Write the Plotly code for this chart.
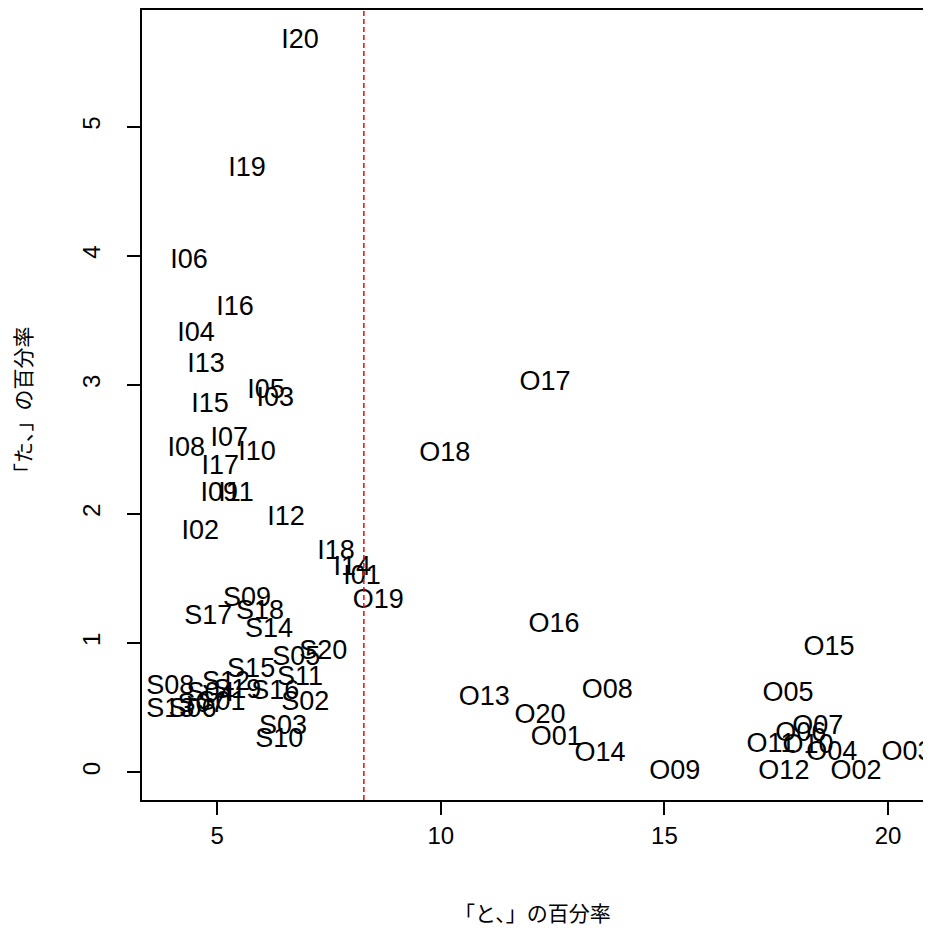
import plotly.graph_objects as go

labels = ["I20", "I19", "I06", "I16", "I04", "I13", "I05", "I03", "I15", "I07",
          "I08", "I10", "I17", "I09", "I11", "I02", "I12", "I18", "I14", "I01",
          "O17", "O18", "O19", "O16", "O15", "O13", "O08", "O05", "O20", "O01",
          "O14", "O09", "O07", "O06", "O11", "O10", "O04", "O03", "O02", "O12",
          "S09", "S17", "S18", "S14", "S20", "S05", "S15", "S11", "S16", "S02",
          "S03", "S10", "S08", "S12", "S13", "S06", "S07", "S04", "S19", "S01"]
to_pct = [6.85, 5.67, 4.37, 5.40, 4.53, 4.75, 6.09, 6.30, 4.84, 5.27,
          4.31, 5.89, 5.07, 5.05, 5.42, 4.62, 6.54, 7.66, 8.02, 8.24,
          12.33, 10.09, 8.60, 12.53, 18.68, 10.97, 13.72, 17.76, 12.22, 12.58,
          13.56, 15.23, 18.43, 18.05, 17.38, 18.21, 18.74, 20.42, 19.28, 17.67,
          5.67, 4.80, 5.96, 6.16, 7.37, 6.77, 5.76, 6.85, 6.30, 6.97,
          6.47, 6.39, 3.95, 5.20, 3.95, 4.45, 4.65, 4.85, 5.45, 5.10]
ta_pct = [5.66, 4.67, 3.96, 3.59, 3.39, 3.15, 2.95, 2.89, 2.84, 2.58,
          2.50, 2.47, 2.36, 2.15, 2.15, 1.86, 1.97, 1.70, 1.58, 1.51,
          3.01, 2.46, 1.32, 1.14, 0.96, 0.57, 0.63, 0.60, 0.43, 0.26,
          0.14, 0.00, 0.35, 0.29, 0.21, 0.20, 0.15, 0.15, 0.00, 0.00,
          1.34, 1.20, 1.24, 1.10, 0.93, 0.88, 0.79, 0.73, 0.62, 0.53,
          0.35, 0.25, 0.66, 0.69, 0.48, 0.48, 0.52, 0.60, 0.63, 0.53]
THRESHOLD = 8.28
x_ticks = [5, 10, 15, 20]
y_ticks = [0, 1, 2, 3, 4, 5]

fig = go.Figure()
fig.add_trace(go.Scatter(
    x=to_pct, y=ta_pct, mode="text", text=labels,
    textposition="middle center",
    textfont=dict(family="Liberation Sans, Arial", size=27, color="black"),
    hoverinfo="skip", showlegend=False,
))
fig.add_shape(type="line", xref="x", yref="paper", x0=THRESHOLD, x1=THRESHOLD,
              y0=0, y1=1, line=dict(color="#ff0000", width=1.5, dash="5px,3px"))

axis_common = dict(showgrid=False, zeroline=False, showline=True, linecolor="black",
                   linewidth=1.5, ticks="outside", ticklen=13, tickwidth=1.5,
                   tickcolor="black",
                   tickfont=dict(family="Liberation Sans, Arial", size=24, color="black"))
fig.update_xaxes(range=[3.32, 20.78], tickvals=x_ticks, mirror=True, **axis_common)
fig.update_yaxes(range=[-0.216, 5.904], tickvals=y_ticks, tickangle=-90,
                 ticklabelstandoff=18, **axis_common)

fig.add_annotation(text="「と、」の百分率", xref="paper", yref="paper", x=0.5, y=-0.142,
                   showarrow=False, xanchor="center", yanchor="middle",
                   font=dict(family="Noto Sans CJK JP", size=21, color="black"))
fig.add_annotation(text="「た、」の百分率", xref="paper", yref="paper", x=-0.1537, y=0.5,
                   textangle=-90, showarrow=False, xanchor="center", yanchor="middle",
                   font=dict(family="Noto Sans CJK JP", size=21, color="black"))

fig.update_layout(width=915, height=921, paper_bgcolor="white", plot_bgcolor="white",
                  margin=dict(l=134, r=0, t=0, b=129))
fig.write_html("out.html")
